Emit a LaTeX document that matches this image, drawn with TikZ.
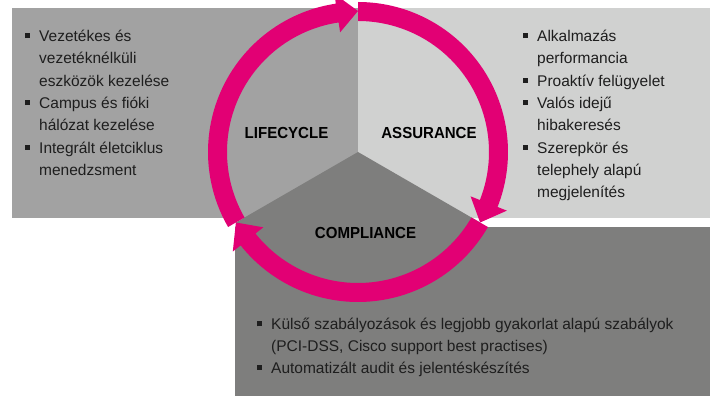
\documentclass[tikz,border=0pt]{standalone}
\usepackage{fontspec}
\setmainfont{Liberation Sans}
\newfontfamily\lblfont[FakeStretch=0.94]{Liberation Sans}
\definecolor{cleft}{HTML}{A2A2A2}
\definecolor{cright}{HTML}{D0D1D0}
\definecolor{cbottom}{HTML}{7E7E7D}
\definecolor{cmag}{HTML}{E20074}
\definecolor{ctext}{HTML}{1E1E1E}
\newcommand\mybul{\rule[3.5pt]{5pt}{5pt}}
\newcommand\ringarrow[3]{%
  \fill[cmag] (#1:131) arc[start angle=#1, end angle=#2, radius=131]
    -- (#2:121) -- (#3:141) -- (#2:160) -- (#2:150)
    arc[start angle=#2, end angle=#1, radius=150] -- cycle;}
\begin{document}
\begin{tikzpicture}[x=1pt,y=1pt,
  listtext/.style={anchor=base west, inner sep=0pt, text=ctext,
    font=\fontsize{15.5}{22.3}\selectfont},
  seglabel/.style={inner sep=0pt, text=black, font=\lblfont\bfseries\fontsize{16}{18}\selectfont}]
\useasboundingbox (0,0) rectangle (710,396);
% panels
\fill[cleft] (12,178) rectangle (358,388);
\fill[cright] (358,178) rectangle (710,388);
\fill[cbottom] (235,0) rectangle (710,169);
\begin{scope}[shift={(358,244)}]
  \fill[cbottom] (0,0) -- (210:141) arc[start angle=210, end angle=330, radius=141] -- cycle;
  \ringarrow{210}{98.5}{90}
  \ringarrow{90}{-21.5}{-30}
  \ringarrow{330}{218.5}{210}
  \coordinate (C) at (0,0);
\end{scope}
% labels
\node[seglabel] (lifecycle) at (286.5,263.5) {LIFECYCLE};
\node[seglabel] (assurance) at (429,263.5) {ASSURANCE};
\node[seglabel] (compliance) at (365.5,163.5) {COMPLIANCE};
% lists
\node[listtext] (leftlist) at (25,354.3) {\fontsize{15.5}{22.3}\selectfont
  \begin{tabular}[t]{@{}l@{\hspace{9pt}}l@{}}
  \mybul & Vezetékes és\\
         & vezetéknélküli\\
         & eszközök kezelése\\
  \mybul & Campus és fióki\\
         & hálózat kezelése\\
  \mybul & Integrált életciklus\\
         & menedzsment
  \end{tabular}};
\node[listtext] (rightlist) at (523,354.3) {\fontsize{15.5}{22.3}\selectfont
  \begin{tabular}[t]{@{}l@{\hspace{9pt}}l@{}}
  \mybul & Alkalmazás\\
         & performancia\\
  \mybul & Proaktív felügyelet\\
  \mybul & Valós idejű\\
         & hibakeresés\\
  \mybul & Szerepkör és\\
         & telephely alapú\\
         & megjelenítés
  \end{tabular}};
\node[listtext] (bottomlist) at (257,66) {\fontsize{15.5}{21.7}\selectfont
  \begin{tabular}[t]{@{}l@{\hspace{9pt}}l@{}}
  \mybul & Külső szabályozások és legjobb gyakorlat alapú szabályok\\
         & (PCI-DSS, Cisco support best practises)\\
  \mybul & Automatizált audit és jelentéskészítés
  \end{tabular}};
\end{tikzpicture}
\end{document}
